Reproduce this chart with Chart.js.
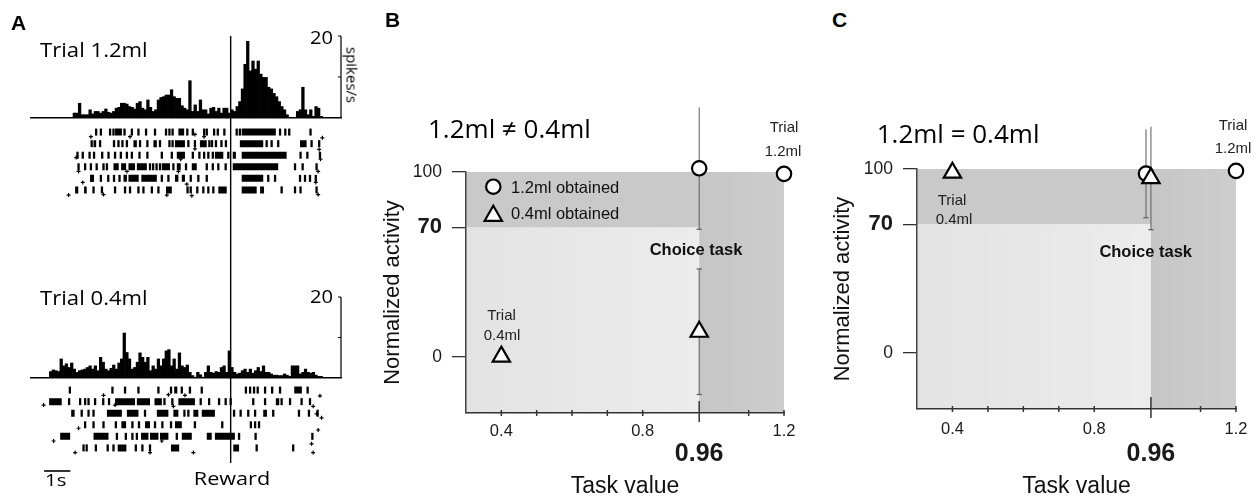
<!DOCTYPE html>
<html><head><meta charset="utf-8">
<script src="https://cdn.jsdelivr.net/npm/chart.js@4.4.1/dist/chart.umd.min.js"></script>
<style>
html,body{margin:0;padding:0;background:#fff;}
#fig{position:relative;width:1260px;height:500px;overflow:hidden;background:#fff;}
canvas{position:absolute;}
.t{position:absolute;white-space:nowrap;line-height:1;color:#000;z-index:5;}
</style></head><body><div id="fig">
<canvas id="aTopHist" width="340" height="104" style="left:20px;top:20px"></canvas>
<canvas id="aTopRaster" width="340" height="82" style="left:20px;top:120px"></canvas>
<canvas id="aBotHist" width="340" height="104" style="left:20px;top:280px"></canvas>
<canvas id="aBotRaster" width="340" height="82" style="left:20px;top:378px"></canvas>
<canvas id="aOverlay" width="340" height="450" style="left:20px;top:30px"></canvas>
<canvas id="chartB" width="440" height="405" style="left:370px;top:95px"></canvas>
<canvas id="chartC" width="440" height="405" style="left:820px;top:95px"></canvas>
</div>
<script>
// ---------------- DATA ----------------
// Panel A: time axis (s, relative to reward)
const A_X_MIN = -7.6, A_X_MAX = 4.2;
const BIN_WIDTH = 0.1;
const REWARD_TIME = 0;
const SCALE_BAR_S = [-7.1, -6.1];           // 1 s scale bar
const RATE_SCALE_MAX = 20;                    // spikes/s
const RATE_SCALE_TICKS = [10, 20];

// PSTH, trial 1.2 ml (spikes/s), bins of 0.1 s starting at -6.0 s
const PSTH_12_START = -6.0;
const psth12 = [1.2, 1.2, 3.6, 0.8, 0.8, 0.8, 2.0, 1.0, 1.6, 1.6,
  1.2, 1.6, 2.2, 1.4, 1.2, 1.6, 2.4, 2.6, 3.6, 3.6,
  3.4, 2.8, 2.6, 2.2, 3.6, 4.0, 2.4, 2.0, 4.4, 2.6,
  1.6, 2.0, 4.4, 5.0, 5.2, 5.6, 5.6, 6.9, 5.2, 4.8,
  4.8, 3.0, 2.4, 2.0, 9.1, 1.6,
  3.2, 1.6, 4.4, 2.0, 2.0, 1.0, 2.4, 2.6, 1.6, 2.4,
  1.2, 2.4, 2.4, 1.2, 2.0, 1.6, 2.8, 4.0, 7.1, 13.1,
  18.7, 11.5, 13.9, 11.9, 13.9, 10.7, 9.9, 9.9, 7.5, 7.1,
  6.0, 5.2, 4.0, 2.8, 2.0, 0.8, 0.2, 0, 0, 1.6,
  2.0, 7.5, 2.0, 0.8, 2.0, 0.4, 2.8, 2.4, 0.4];

// PSTH, trial 0.4 ml (spikes/s), bins of 0.1 s starting at -6.9 s
const PSTH_04_START = -6.9;
const psth04 = [1.6, 2.0, 1.8, 1.6, 4.7, 3.0, 3.5, 2.6, 3.7, 2.2,
  1.4, 1.8, 2.0, 2.2, 2.6, 3.0, 2.2, 3.0, 1.8, 5.1,
  3.9, 2.2, 1.8, 2.4, 3.2, 2.2, 3.7, 4.7, 11.1, 6.3,
  4.7, 2.2, 2.6, 3.9, 6.2, 5.1, 3.9, 5.1, 1.8, 3.0,
  2.2, 4.7, 3.0, 4.7, 6.7, 7.0, 3.0, 4.7, 2.2, 6.2,
  3.0, 2.6, 3.2, 1.4, 0.6, 0.2, 1.4, 0.8, 0.2, 1.4,
  3.0, 1.4, 1.2, 1.6, 1.4, 2.6, 3.0, 1.4, 6.7, 2.6,
  1.4, 1.0, 1.2, 1.8, 2.2, 1.4, 2.2, 1.2, 1.8, 2.6,
  1.6, 3.0, 1.4, 1.4, 1.0, 0.7, 0.7, 0.6, 0.6, 1.0,
  0.7, 0.4, 3.0, 3.0, 3.0, 1.0, 1.4, 2.2, 1.4, 1.2,
  1.4, 0.7, 0.4, 0.4];

// Raster, trial 1.2 ml: single spikes (s), bursts [start,end] (s), trial event marks [t,row]
const raster12Spikes = [
  [-5.12,-4.94,-4.59,-4.46,-4.04,-3.76,-3.51,-3.22,-2.88,-2.46,-2.33,-2.21,-1.65,-1.44,-1.01,-0.91,-0.63,-0.49,-0.24,0.23,0.35,1.88,2.08,2.23,3.04],
  [-5.29,-4.97,-4.44,-4.27,-4.12,-3.95,-3.45,-3.17,-2.69,-2.33,-2.21,-1.61,-1.36,-0.81,-0.71,-0.56,-0.35,-0.18,1.37,1.56,1.81,3.08,3.37],
  [-5.83,-5.63,-5.37,-5.20,-4.89,-4.65,-4.40,-4.18,-3.95,-3.76,-3.47,-3.17,-2.62,-2.24,-1.44,-1.19,-1.01,-0.85,-0.68,-0.09,2.66,2.92,3.40],
  [-5.79,-5.54,-5.32,-5.10,-4.84,-4.71,-3.07,-2.95,-2.82,-2.69,-2.18,-1.70,-0.91,-0.68,-0.47,-0.19,2.45,2.74,3.27],
  [-5.30,-4.94,-4.66,-4.44,-4.23,-2.62,-2.37,-1.52,-1.23,-0.91,1.43,1.69,2.64,2.83,3.02,3.24],
  [-5.22,-4.90,-4.40,-4.02,-3.83,-3.51,-3.32,-3.00,-2.75,-1.64,-1.52,-1.27,-1.04,-0.85,-0.66,1.94,2.45,2.66,3.27]
];
const raster12Bursts = [
  [[-4.40,-4.14],[-1.99,-1.77],[0.42,1.72]],
  [[-5.22,-5.12],[-3.70,-3.57],[-2.94,-2.81],[-2.12,-1.74],[-1.17,-0.91],[0.35,1.24],[2.64,2.89]],
  [[-2.05,-1.74],[-0.60,-0.28],[0.08,0.20],[0.42,2.13]],
  [[-4.46,-4.26],[-4.17,-3.98],[-3.89,-3.64],[-3.57,-3.19],[-2.62,-2.31],[-2.05,-1.90],[-1.48,-1.29],[0.08,1.81]],
  [[-5.35,-5.20],[-4.08,-3.95],[-3.89,-3.50],[-3.40,-2.81],[-2.12,-1.99],[-1.86,-1.74],[0.42,1.24]],
  [[-5.92,-5.80],[-5.58,-5.48],[-2.46,-2.24],[-0.47,-0.15],[0.42,0.99],[1.12,1.27]]
];
const raster12Marks = [[-5.32,1.4],[-3.83,1.4],[-1.36,1.2],[-1.01,1.4],[3.49,1.5],[-1.36,2.45],[3.37,2.5],
  [-5.88,3.2],[-1.90,3.35],[3.42,3.35],[-5.79,4.4],[-3.95,4.4],[-1.99,4.4],[3.33,4.4],[-5.63,5.35],
  [-1.67,5.5],[3.24,5.35],[-6.17,6.45],[-4.84,6.4],[-2.43,6.45],[-1.48,6.5],[3.33,6.4]];

// Raster, trial 0.4 ml
const raster04Spikes = [
  [-6.12,-4.50,-4.02,-3.51,-2.75,-2.27,-1.86,-1.55,-1.10,0.58,0.74,0.89,1.03,1.31,1.58,1.88,2.93],
  [-6.15,-5.73,-5.54,-5.41,-5.16,-4.85,-4.63,-2.52,-2.22,-1.14,-0.82,-0.44,-0.19,0.0,0.86,1.31,1.94,2.26,2.70,3.02],
  [-5.67,-5.41,-5.22,-3.26,-1.76,-1.61,0.13,0.38,0.67,0.93,1.62,2.60,2.98,3.31],
  [-5.54,-5.22,-4.84,-4.37,-3.74,-3.49,-2.88,-2.60,-2.27,-1.36,-0.32,0.77,0.93,1.08],
  [-4.33,-3.99,-3.74,-3.57,-2.05,0.32,0.95,3.11],
  [-5.60,-5.48,-5.13,-4.68,-4.46,-3.61,-3.36,-3.07,0.99,2.38]
];
const raster04Bursts = [
  [[-2.15,-2.03],[2.42,2.71]],
  [[-6.91,-6.43],[-4.40,-3.64],[-3.57,-3.07],[-2.90,-2.62],[-1.99,-1.36],[1.72,1.85]],
  [[-6.07,-5.94],[-4.71,-4.14],[-3.95,-3.51],[-2.81,-2.37],[-2.18,-1.99],[-1.42,-1.23],[-1.10,-0.60],[1.24,1.38]],
  [[-4.16,-3.98],[-3.26,-3.07],[-2.12,-1.86]],
  [[-6.49,-6.11],[-5.22,-4.65],[-3.41,-3.13],[-3.07,-2.75],[-2.69,-2.37],[-1.86,-1.48],[-0.91,-0.72],[-0.60,0.16]],
  [[-4.30,-3.97],[-2.27,-1.96],[0.10,0.32]]
];
const raster04Marks = [[-4.84,1.45],[-2.37,1.4],[-1.74,1.45],[3.40,1.5],[-7.12,2.3],[-4.40,2.3],[-2.18,2.4],
  [3.14,2.4],[3.27,3.05],[3.46,3.4],[-5.79,4.3],[3.33,4.45],[-6.74,5.4],[-2.62,5.4],[3.08,5.65],
  [-5.92,6.4],[-3.07,6.4],[-1.42,6.4],[3.14,6.4]];

// Panels B & C: task value vs normalized activity
const taskTicks = [0.4, 0.5, 0.6, 0.7, 0.8, 0.96, 1.1, 1.2];
const taskTickLabels = ['0.4', '', '', '', '0.8', '0.96', '', '1.2'];
const taskTickBold = [false, false, false, false, false, true, false, false];
const activityTicks = [0, 70, 100];
const activityTickLabels = ['0', '70', '100'];
const activityTickBold = [false, true, false];
const VALUE_THRESHOLD = 0.96;
const ACTIVITY_THRESHOLD = 70;
const TASK_MIN = 0.3, TASK_MAX = 1.2;
const ACT_MIN = -30.5, ACT_MAX = 100;

const bCircleX = [0.96, 1.2], bCircleY = [102, 99], bCircleErr = [33, null];
const bTriX = [0.4, 0.96],    bTriY = [0, 13.5],   bTriErr = [null, 34];
const cCircleX = [0.946, 1.2], cCircleY = [97.5, 99], cCircleErr = [24, null];
const cTriX = [0.4, 0.96],     cTriY = [98, 95],      cTriErr = [null, 28];

// ---------------- RENDERING ----------------
const LIB = '"Liberation Sans", Arial, Helvetica, sans-serif';
const OPEN = '"Open Sans", "Noto Sans", sans-serif';
Chart.defaults.font.family = LIB;

const baseOpts = () => ({responsive:false, animation:false, events:[],
  plugins:{legend:{display:false}, tooltip:{enabled:false}}});

const scaleBarPlugin = {id:'scaleBar', afterDraw(chart){
  const {ctx, chartArea:ca, scales:{y}} = chart;
  const x = ca.right;
  ctx.save(); ctx.strokeStyle = '#000'; ctx.lineWidth = 1.2;
  ctx.beginPath();
  ctx.moveTo(x, y.getPixelForValue(0)); ctx.lineTo(x, y.getPixelForValue(RATE_SCALE_MAX));
  RATE_SCALE_TICKS.forEach(v => { const py = y.getPixelForValue(v); ctx.moveTo(x, py); ctx.lineTo(x - 3, py); });
  ctx.stroke(); ctx.restore();
}};

function psthChart(id, values, start, pad){
  const data = values.map((v, i) => ({x: start + BIN_WIDTH * (i + 0.5), y: v}));
  const o = baseOpts();
  o.layout = {padding: pad};
  o.scales = {
    x:{type:'linear', min:A_X_MIN, max:A_X_MAX, offset:false,
       ticks:{display:false}, grid:{display:false, drawTicks:false},
       border:{display:true, color:'#000', width:1.5}},
    y:{type:'linear', min:0, max:RATE_SCALE_MAX, display:false}
  };
  return new Chart(document.getElementById(id), {type:'bar',
    data:{datasets:[{data, backgroundColor:'#000', borderWidth:0, barPercentage:1, categoryPercentage:1}]},
    options:o, plugins:[scaleBarPlugin]});
}

function rasterChart(id, spikes, bursts, marks, pad){
  const datasets = [];
  const spikePts = [];
  spikes.forEach((row, r) => row.forEach(t => spikePts.push({x:t, y:r + 1})));
  datasets.push({type:'scatter', data:spikePts, pointStyle:'line', pointRotation:90, pointRadius:3.5,
    pointBorderColor:'#000', pointBorderWidth:2.3, clip:false});
  const burstPts = [];
  bursts.forEach((row, r) => row.forEach(([s, e]) => { burstPts.push({x:s, y:r + 1}, {x:e, y:r + 1}, {x:e, y:null}); }));
  datasets.push({type:'line', data:burstPts, borderColor:'#000', borderWidth:7, borderCapStyle:'butt',
    pointRadius:0, spanGaps:false, tension:0, clip:false});
  datasets.push({type:'scatter', data:marks.map(([t, r]) => ({x:t, y:r})), pointStyle:'cross', pointRadius:2,
    pointBorderColor:'#000', pointBorderWidth:1.2, clip:false});
  const o = baseOpts();
  o.layout = {padding: pad};
  o.scales = {
    x:{type:'linear', min:A_X_MIN, max:A_X_MAX, display:false},
    y:{type:'linear', min:0.5, max:6.5, reverse:true, display:false}
  };
  return new Chart(document.getElementById(id), {type:'scatter', data:{datasets}, options:o});
}

psthChart('aTopHist', psth12, PSTH_12_START, {left:11, right:19, top:16, bottom:6});
rasterChart('aTopRaster', raster12Spikes, raster12Bursts, raster12Marks, {left:11, right:19, top:2, bottom:3.8});
psthChart('aBotHist', psth04, PSTH_04_START, {left:11, right:19, top:17, bottom:6});
rasterChart('aBotRaster', raster04Spikes, raster04Bursts, raster04Marks, {left:11, right:19, top:2.5, bottom:4.7});

// overlay: reward line and 1 s scale bar
(function(){
  const o = baseOpts();
  o.layout = {padding:{left:11, right:19, top:6, bottom:9}};
  o.scales = {x:{type:'linear', min:A_X_MIN, max:A_X_MAX, display:false},
              y:{type:'linear', min:0, max:1, display:false}};
  new Chart(document.getElementById('aOverlay'), {type:'scatter', data:{datasets:[
    {type:'line', data:[{x:REWARD_TIME, y:0.0184}, {x:REWARD_TIME, y:1}], borderColor:'#000', borderWidth:1.4, pointRadius:0, clip:false},
    {type:'line', data:[{x:SCALE_BAR_S[0], y:0}, {x:SCALE_BAR_S[1], y:0}], borderColor:'#000', borderWidth:1.6, pointRadius:0, borderCapStyle:'butt', clip:false}
  ]}, options:o});
})();

// Panels B, C
const regionPlugin = {id:'regions', beforeDraw(chart){
  const {ctx, scales:{x, y}} = chart;
  const xl = x.getPixelForValue(TASK_MIN), xr = x.getPixelForValue(TASK_MAX), xt = x.getPixelForValue(VALUE_THRESHOLD);
  const yb = y.getPixelForValue(ACT_MIN), yt = y.getPixelForValue(ACT_MAX), yth = y.getPixelForValue(ACTIVITY_THRESHOLD);
  ctx.save();
  const g = ctx.createLinearGradient(xl, 0, xt, 0);
  g.addColorStop(0, '#e3e3e3'); g.addColorStop(1, '#ececec');
  ctx.fillStyle = g; ctx.fillRect(xl, yth, xt - xl, yb - yth);
  ctx.fillStyle = '#c9c9c9';
  ctx.fillRect(xl, yt, xt - xl, yth - yt);
  const g2 = ctx.createLinearGradient(xt, 0, xr, 0);
  g2.addColorStop(0, '#c6c6c6'); g2.addColorStop(1, '#cdcdcd');
  ctx.fillStyle = g2; ctx.fillRect(xt, yt, xr - xt, yb - yt);
  ctx.restore();
}};
const tickMarkPlugin = {id:'tickMarks', afterDraw(chart, args, opts){
  const {ctx, scales:{x}} = chart;
  const yb = x.top;
  ctx.save(); ctx.strokeStyle = '#333'; ctx.lineWidth = 1.5;
  x.ticks.forEach((t, i) => {
    const px = x.getPixelForValue(t.value);
    const [up, down] = taskTickBold[i] ? opts.major : opts.minor;
    ctx.beginPath(); ctx.moveTo(px, yb - up); ctx.lineTo(px, yb + down); ctx.stroke();
  });
  ctx.restore();
}};
const legendPlugin = {id:'markerLegend', afterDraw(chart, args, opts){
  if (!opts.items) return;
  const {ctx, chartArea:ca} = chart;
  ctx.save(); ctx.fillStyle = '#fff'; ctx.strokeStyle = '#000'; ctx.lineWidth = 2.2;
  opts.items.forEach(it => {
    const x = ca.left + it.dx, y = ca.top + it.dy, r = it.r;
    ctx.beginPath();
    if (it.style === 'circle') ctx.arc(x, y, r, 0, Math.PI * 2);
    else { ctx.moveTo(x, y - r); ctx.lineTo(x + 0.866 * r, y + 0.5 * r); ctx.lineTo(x - 0.866 * r, y + 0.5 * r); ctx.closePath(); }
    ctx.fill(); ctx.stroke();
  });
  ctx.restore();
}};

function valuePanel(id, d, L){
  const datasets = [];
  const addErr = (xs, ys, es) => xs.forEach((x, i) => { if (es[i] == null) return;
    datasets.push({type:'line', data:[{x, y:ys[i] - es[i]}, {x, y:ys[i] + es[i]}], borderColor:'#5a5a5a', borderWidth:1,
      pointStyle:'line', pointRadius:2.6, pointBorderColor:'#5a5a5a', pointBorderWidth:1.2, clip:false, order:3}); });
  addErr(d.cx, d.cy, d.ce); addErr(d.tx, d.ty, d.te);
  datasets.push({type:'scatter', data:d.cx.map((x, i) => ({x, y:d.cy[i]})), pointStyle:'circle', pointRadius:7.2,
    pointBackgroundColor:'#fff', pointBorderColor:'#000', pointBorderWidth:2.2, clip:false, order:2});
  datasets.push({type:'scatter', data:d.tx.map((x, i) => ({x, y:d.ty[i]})), pointStyle:'triangle', pointRadius:10,
    pointBackgroundColor:'#fff', pointBorderColor:'#000', pointBorderWidth:2.2, clip:false, order:1});
  const o = baseOpts();
  o.layout = {padding:{left:0, top:L.top, right:L.right, bottom:0}};
  o.plugins.tickMarks = {minor:[3, 3], major:[12, 9]};
  o.plugins.markerLegend = {items: L.legend};
  o.scales = {
    x:{type:'linear', min:TASK_MIN, max:TASK_MAX,
      afterBuildTicks: s => { s.ticks = taskTicks.map(v => ({value:v})); },
      afterFit: s => { s.height = L.xH; },
      ticks:{autoSkip:false, maxRotation:0, minRotation:0, padding:L.xPad, color:'#1a1a1a',
        callback:(v, i) => taskTickBold[i] ? ['', taskTickLabels[i]] : taskTickLabels[i],
        font: c => taskTickBold[c.index] ? {family:LIB, size:25, weight:'bold', lineHeight:L.boldLH} : {family:LIB, size:16.5, lineHeight:1.2}},
      grid:{display:true, drawOnChartArea:false, drawTicks:false},
      border:{display:true, color:'#333', width:1.5},
      title:{display:true, text:'Task value', color:'#111', font:{family:LIB, size:23, lineHeight:1.2}, padding:{top:0, bottom:0}}
    },
    y:{type:'linear', min:ACT_MIN, max:ACT_MAX,
      afterBuildTicks: s => { s.ticks = activityTicks.map(v => ({value:v})); },
      afterFit: s => { s.width = L.yW; },
      ticks:{padding:10, color:'#1a1a1a', callback:(v, i) => activityTickLabels[i],
        font: c => activityTickBold[c.index] ? {family:LIB, size:22, weight:'bold'} : {family:LIB, size:17.5}},
      grid:{display:true, drawOnChartArea:false, drawTicks:true, tickLength:14, color:'#333', lineWidth:1.3},
      border:{display:true, color:'#444', width:1.5},
      title:{display:true, text:'Normalized activity', color:'#111', font:{family:LIB, size:22, lineHeight:1.2}, padding:{top:9.8, bottom:0}}
    }
  };
  return new Chart(document.getElementById(id), {type:'scatter', data:{datasets}, options:o,
    plugins:[regionPlugin, tickMarkPlugin, legendPlugin]});
}

valuePanel('chartB', {cx:bCircleX, cy:bCircleY, ce:bCircleErr, tx:bTriX, ty:bTriY, te:bTriErr},
  {top:77, right:26, xH:87, yW:96, xPad:8.4, boldLH:0.87,
   legend:[{style:'circle', dx:27.3, dy:14.7, r:7.2}, {style:'triangle', dx:27.3, dy:43.8, r:10}]});
valuePanel('chartC', {cx:cCircleX, cy:cCircleY, ce:cCircleErr, tx:cTriX, ty:cTriY, te:cTriErr},
  {top:74, right:24, xH:91, yW:97, xPad:10.4, boldLH:0.92, legend:null});

// ---------------- TEXT ----------------
const FONTS = {lib:{fam:LIB, asc:0.8465}, open:{fam:OPEN, asc:0.888}};
const texts = [
  {text:'A', x:11, y:30, size:21, bold:true, font:'lib'},
  {text:'Trial 1.2ml', x:40, y:57, size:20.5, font:'open', sx:1.08},
  {text:'20', x:333, y:45, size:17.5, font:'open', align:'right', sx:1.15},
  {text:'Trial 0.4ml', x:40, y:305, size:20.5, font:'open', sx:1.08},
  {text:'20', x:333, y:303.3, size:17.5, font:'open', align:'right', sx:1.15},
  {text:'1s', x:45, y:486, size:17, font:'open', sx:1.2},
  {text:'Reward', x:231.7, y:485, size:18.5, font:'open', align:'center', sx:1.17},
  {text:'B', x:385, y:27, size:21, bold:true, font:'lib'},
  {text:'1.2ml \u2260 0.4ml', x:428, y:138, size:26, font:'open'},
  {text:'Trial', x:784, y:131.7, size:15, font:'lib', align:'center', color:'#222'},
  {text:'1.2ml', x:783, y:156, size:15, font:'lib', align:'center', color:'#222'},
  {text:'Trial', x:501.5, y:320, size:15, font:'lib', align:'center', color:'#222'},
  {text:'0.4ml', x:502, y:340, size:15, font:'lib', align:'center', color:'#222'},
  {text:'Choice task', x:696, y:255, size:16.5, bold:true, font:'lib', align:'center', color:'#111'},
  {text:'1.2ml obtained', x:511, y:192.7, size:16.5, font:'lib', color:'#111'},
  {text:'0.4ml obtained', x:511, y:219.3, size:16.5, font:'lib', color:'#111'},
  {text:'C', x:832, y:27, size:21, bold:true, font:'lib'},
  {text:'1.2ml = 0.4ml', x:876.7, y:143, size:26, font:'open'},
  {text:'Trial', x:952, y:205, size:15, font:'lib', align:'center', color:'#222'},
  {text:'0.4ml', x:954, y:224, size:15, font:'lib', align:'center', color:'#222'},
  {text:'Trial', x:1233, y:129.3, size:15, font:'lib', align:'center', color:'#222'},
  {text:'1.2ml', x:1233, y:152.7, size:15, font:'lib', align:'center', color:'#222'},
  {text:'Choice task', x:1145.7, y:256.7, size:16.5, bold:true, font:'lib', align:'center', color:'#111'}
];
const fig = document.getElementById('fig');
texts.forEach(t => {
  const f = FONTS[t.font];
  const d = document.createElement('div');
  d.className = 't'; d.textContent = t.text;
  d.style.fontFamily = f.fam; d.style.fontSize = t.size + 'px';
  d.style.fontWeight = t.bold ? '700' : '400';
  if (t.color) d.style.color = t.color;
  d.style.left = t.x + 'px'; d.style.top = (t.y - f.asc * t.size) + 'px';
  const ax = t.align === 'center' ? -50 : t.align === 'right' ? -100 : 0;
  d.style.transformOrigin = t.align === 'center' ? '50% 50%' : t.align === 'right' ? '100% 50%' : '0 50%';
  d.style.transform = `translateX(${ax}%) scaleX(${t.sx || 1})`;
  fig.appendChild(d);
});
// rotated unit label
const sp = document.createElement('div');
sp.className = 't'; sp.textContent = 'spikes/s';
sp.style.fontFamily = OPEN; sp.style.fontSize = '15px';
sp.style.left = '352px'; sp.style.top = '75px';
sp.style.transform = 'translate(-50%,-50%) rotate(90deg)';
fig.appendChild(sp);
</script>
</body></html>
